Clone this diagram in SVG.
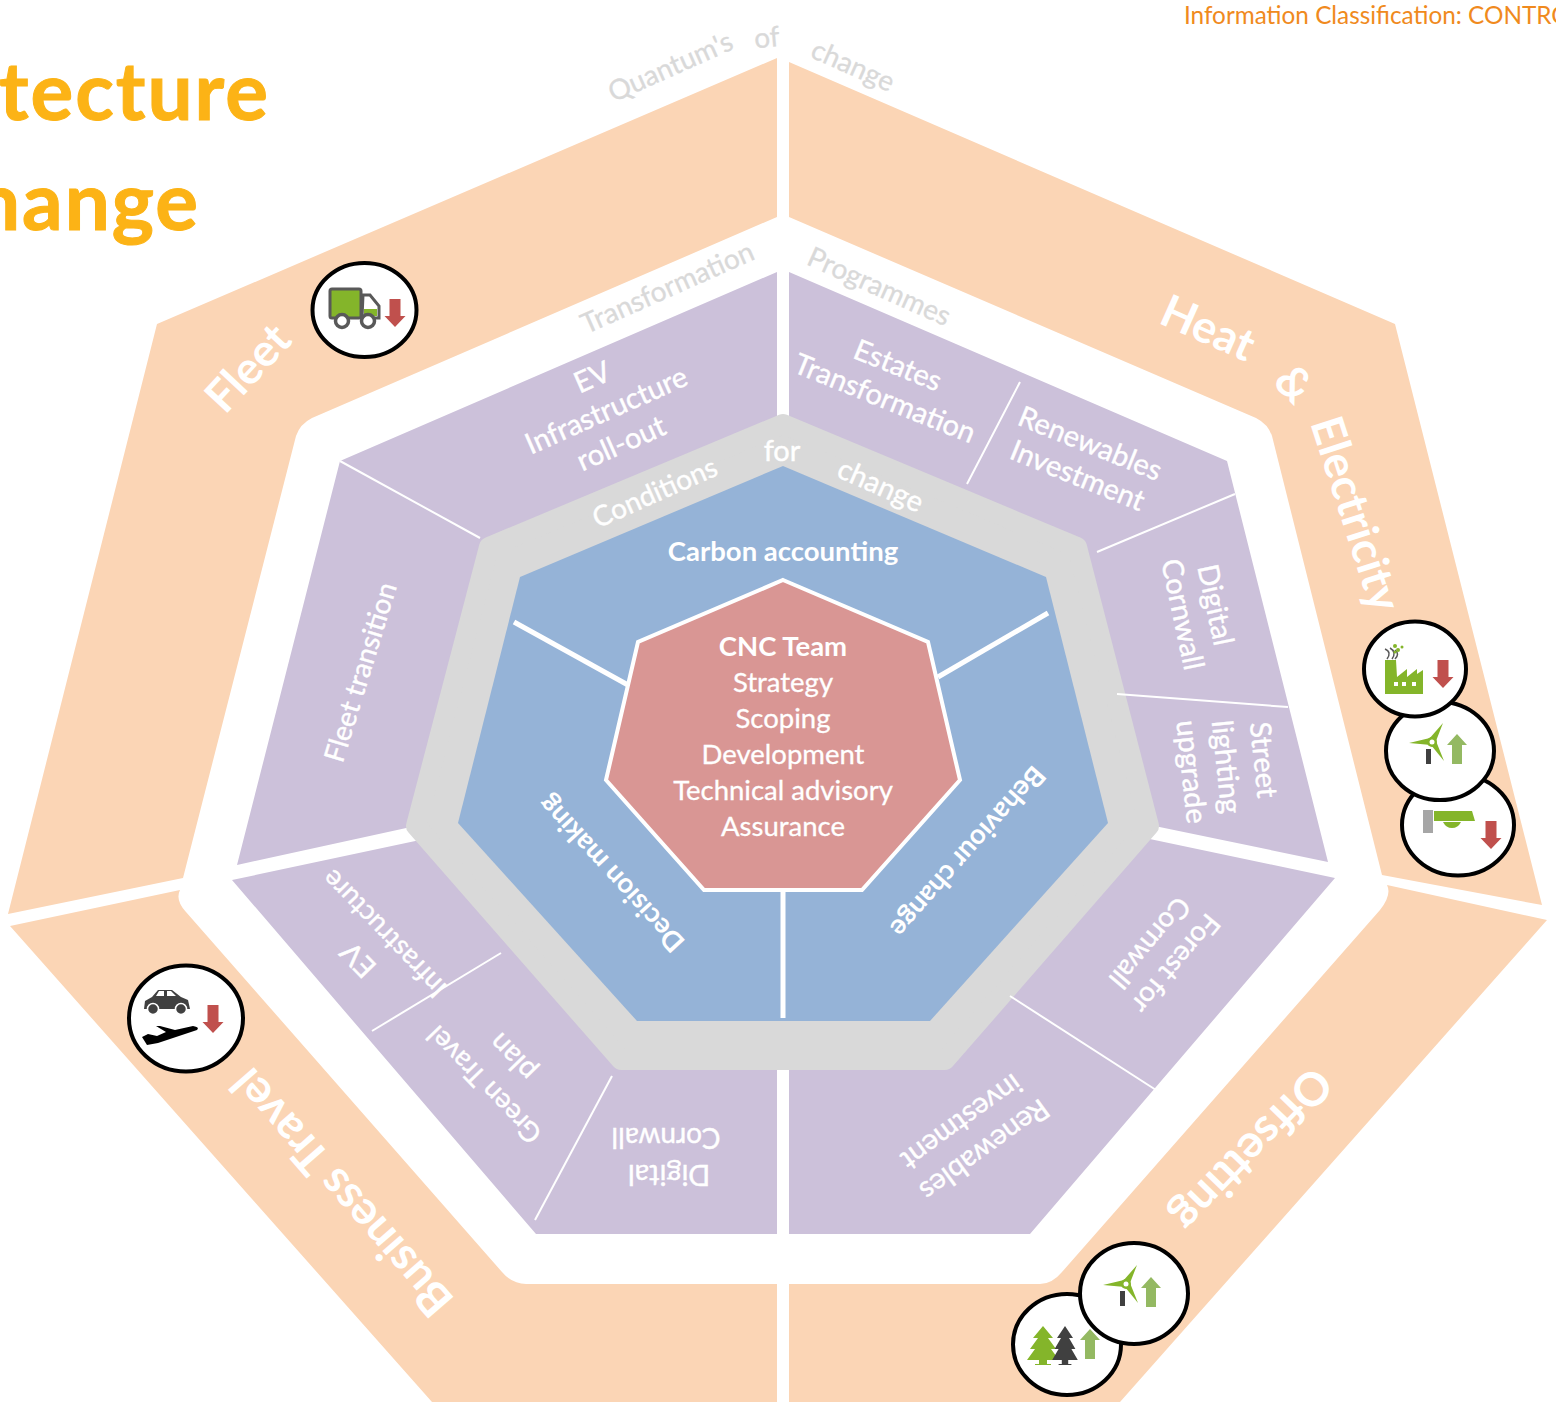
<svg xmlns="http://www.w3.org/2000/svg" width="1556" height="1404" viewBox="0 0 1556 1404">
<style>
text{font-family:"Lato","Carlito","Open Sans",sans-serif;text-anchor:middle;dominant-baseline:middle}
.o{font-size:45px;font-weight:700;fill:#fff}
.r{font-size:28px;fill:#d9d9d9;stroke:#d9d9d9;stroke-width:.3}
.p{font-size:29px;fill:#fff;stroke:#fff;stroke-width:.4}
.n{font-size:28px}
.b{font-size:27.500px;font-weight:700;fill:#fff}
.c{font-size:27.500px;fill:#fff;stroke:#fff;stroke-width:.3}
.t{font-size:80px;font-weight:700;fill:#fcb316;text-anchor:end;dominant-baseline:auto;letter-spacing:2px;stroke:#fcb316;stroke-width:1}
.peach{fill:#fbd5b5}.purple{fill:#ccc1da}.div{stroke:#fff;fill:none}
.ring{fill:#fff;stroke:#000;stroke-width:4}
.dk{fill:#404040}.gn{fill:#84b52a}
</style>
<defs>
<path id="down" d="M-5.500-14H5.500V3H10.500L0 14-10.500 3H-5.500Z" fill="#c0504d"/>
<path id="up" d="M0-15 10-4H5V15H-5V-4H-10Z" fill="#94b962"/>
<g id="wind">
<rect x="-6" y="7" width="5" height="15" class="dk"/>
<path d="M-3-3 11-19 4-1ZM4-1 12 19-1 3ZM-23 1-2-4-1 3Z" class="gn"/>
<circle cx="0" cy="0" r="5" class="gn"/>
<circle r="2.500" fill="#fff"/>
</g>
<path id="tree" d="M0-19 10-7H5L13 4H8L16 15H4V19H8V20H-8V19H-4V15H-16L-8 4H-13L-5-7H-10Z"/>
</defs>
<g id="title">
<text class="t" x="270" y="120">tecture</text>
<text class="t" x="200" y="230">hange</text>
<text x="1184" y="18" style="text-anchor:start;font-size:24.300px;fill:#f08a1d">Information Classification: CONTRO</text>
</g>
<g id="outer-ring">
<path class="peach" d="M777 58V217L312 418Q300 424 296 436L183 878 8 914 157 324Z"/>
<path class="peach" d="M789 62 1395 324 1542 905 1382 875 1272 436Q1268 424 1256 418L789 217Z"/>
<path class="peach" d="M1387 885 1547 920 1120 1402H789V1284H1040Q1052 1284 1062 1272L1380 910Q1392 895 1387 885Z"/>
<path class="peach" d="M10 926 180 890Q175 900 186 912L502 1272Q512 1284 526 1284H777V1402H432Z"/>
</g>
<g id="programmes-ring">
<path class="purple" d="M777 272V430L495 545 420 825 237 865 340 461Z"/>
<path class="purple" d="M789 272 1227 461 1328 862 1145 824 1075 545 789 430Z"/>
<path class="purple" d="M1335 878 1030 1234H789V1060H950L1145 838Z"/>
<path class="purple" d="M232 880 420 840 620 1060H777V1234H536Z"/>
</g>
<g id="conditions">
<path d="M783 424 1077 547 1149 826 945 1060H621L416 826 489 547Z" fill="#d9d9d9" stroke="#d9d9d9" stroke-width="20" stroke-linejoin="round"/>
</g>
<g id="connectors">
<g class="div" stroke-width="2">
<path d="M340 461 480 538"/>
<path d="M1020 382 967 484"/>
<path d="M1235 494 1097 552"/>
<path d="M1117 694 1288 707"/>
<path d="M1010 996 1156 1090"/>
<path d="M612 1076 535 1220"/>
<path d="M501 953 372 1031"/>
</g>
</g>
<g id="pillars">
<path d="M783 466 1046 577 1108 823 930 1021H637L458 823 520 577Z" fill="#95b3d7"/>
<g class="div" stroke-width="5">
<path d="M783 890V1018"/>
<path d="M628 685 514 622"/>
<path d="M938 677 1048 613"/>
</g>
</g>
<g id="core">
<path d="M783 580 928 642 960 780 862 890H704L606 780 638 642Z" fill="#d99694" stroke="#fff" stroke-width="4"/>
<text class="b" x="783" y="649">CNC Team</text>
<text class="c" x="783" y="685">Strategy</text>
<text class="c" x="783" y="721">Scoping</text>
<text class="c" x="783" y="757">Development</text>
<text class="c" x="783" y="793">Technical advisory</text>
<text class="c" x="783" y="829">Assurance</text>
</g>
<g id="pillar-labels">
<text class="b" x="783" y="554">Carbon accounting</text>
<text class="b" transform="translate(613 872) rotate(-132.500)">Decision making</text>
<text class="b" transform="translate(966 850) rotate(131.500)">Behaviour change</text>
</g>
<g id="ring-labels">
<text class="r" dy="1" transform="translate(671 68) rotate(-24)">Quantum's</text>
<text class="r" transform="translate(767 40) rotate(-5)">of</text>
<text class="r" transform="translate(852 68) rotate(24)">change</text>
<text class="r" dy="1" transform="translate(668 289) rotate(-24)">Transformation</text>
<text class="r" dy="2" transform="translate(879 287) rotate(24)">Programmes</text>
<text class="p n" dy="2" transform="translate(655 493) rotate(-24)">Conditions</text>
<text class="p" x="782" y="454">for</text>
<text class="p" dy="1" transform="translate(880 487) rotate(24)">change</text>
</g>
<g id="theme-labels">
<text class="o" dy="4" transform="translate(248 368) rotate(-47)">Fleet</text>
<text class="o" dy="4" transform="translate(1208 328) rotate(24)">Heat</text>
<text class="o" dy="1" transform="translate(1292 386) rotate(45)">&amp;</text>
<text class="o" transform="translate(1352 515) rotate(72)">Electricity</text>
<text class="o" style="font-size:46px" transform="translate(1249 1147) rotate(134)">Offsetting</text>
<text class="o" style="font-size:46px" transform="translate(345 1190) rotate(229)">Business Travel</text>
</g>
<g id="programme-labels">
<text class="p" dy="3" transform="translate(592 377) rotate(-24)">EV</text>
<text class="p" dy="3" transform="translate(606 410) rotate(-24)">Infrastructure</text>
<text class="p" dy="3" transform="translate(621 443) rotate(-24)">roll-out</text>
<text class="p" dy="3" transform="translate(898 365) rotate(22)">Estates</text>
<text class="p" dy="3" transform="translate(885 398) rotate(22)">Transformation</text>
<text class="p" dy="2" transform="translate(1090 444) rotate(22)">Renewables</text>
<text class="p" dy="1" transform="translate(1077 477) rotate(22)">Investment</text>
<text class="p" dy="2" transform="translate(1215 605) rotate(78)">Digital</text>
<text class="p" transform="translate(1180 615) rotate(78)">Cornwall</text>
<text class="p" dy="2" transform="translate(1263 760) rotate(84)">Street</text>
<text class="p" dy="1" transform="translate(1225 767) rotate(84)">lighting</text>
<text class="p" dy="1" transform="translate(1190 772) rotate(84)">upgrade</text>
<text class="p n" transform="translate(363 673) rotate(-73)">Fleet transition</text>
<text class="p n" transform="translate(1174 962) rotate(130)">Forest for</text>
<text class="p n" transform="translate(1148 941) rotate(130)">Cornwall</text>
<text class="p" transform="translate(983 1148) rotate(144)">Renewables</text>
<text class="p" transform="translate(960 1120) rotate(144)">investment</text>
<text class="p" dy="2" transform="translate(669 1174) rotate(180)">Digital</text>
<text class="p n" dy="3" transform="translate(666 1138) rotate(180)">Cornwall</text>
<text class="p" style="font-size:27.500px" transform="translate(486 1083) rotate(226)">Green Travel</text>
<text class="p" dy="2" transform="translate(513 1057) rotate(226)">plan</text>
<text class="p" style="font-size:27.500px" transform="translate(386 932) rotate(226)">Infrastructure</text>
<text class="p" transform="translate(360 958) rotate(226)">EV</text>
</g>
<g id="icon-fleet">
<ellipse class="ring" cx="364.500" cy="310" rx="52" ry="47"/>
<rect x="330" y="289" width="31" height="29" class="gn" stroke="#595959" stroke-width="3" rx="2"/>
<path d="M363 295H370L379 306V318H362Z" fill="#fff" stroke="#595959" stroke-width="3"/>
<path d="M364 309H377V316H364Z" class="gn"/>
<circle cx="342" cy="321" r="6.500" fill="#fff" stroke="#595959" stroke-width="3.500"/>
<circle cx="368" cy="321" r="6.500" fill="#fff" stroke="#595959" stroke-width="3.500"/>
<use href="#down" x="395" y="313"/>
</g>
<g id="icon-street-lighting">
<ellipse class="ring" cx="1458" cy="825" rx="56" ry="50.500"/>
<rect x="1423" y="810" width="10" height="23" fill="#a6a6a6"/>
<path d="M1434 811H1472L1475 821H1434Z" class="gn"/>
<path d="M1443 822H1461Q1458 828 1452 828 1446 828 1443 822Z" class="gn"/>
<use href="#down" x="1491" y="835"/>
</g>
<g id="icon-wind-heat">
<ellipse class="ring" cx="1440" cy="751" rx="54" ry="49"/>
<use href="#wind" x="1432" y="742"/>
<use href="#up" x="1457" y="749"/>
</g>
<g id="icon-factory">
<ellipse class="ring" cx="1415" cy="669" rx="51" ry="47.500"/>
<path d="M1385 660H1396L1397 677 1407 669V677L1417 669V674L1423 670V694H1385Z" class="gn"/>
<g fill="#fff"><rect x="1394" y="682" width="4" height="4"/><rect x="1402" y="682" width="4" height="4"/><rect x="1412" y="682" width="4" height="4"/></g>
<path d="M1385 649Q1392 652 1387 659M1390 648Q1397 652 1392 659M1395 650Q1400 654 1395 659" fill="none" stroke="#595959" stroke-width="1.500"/>
<g class="gn"><circle cx="1395" cy="652" r="1.500"/><circle cx="1398" cy="650" r="2"/><circle cx="1395" cy="646" r="2"/><circle cx="1402" cy="647" r="1.500"/></g>
<use href="#down" x="1443" y="674"/>
</g>
<g id="icon-trees">
<ellipse class="ring" cx="1067" cy="1344.500" rx="54" ry="50.500"/>
<use href="#tree" x="1043" y="1345" class="gn"/>
<use href="#tree" transform="translate(1065 1345) scale(.8 1)" class="dk"/>
<use href="#up" x="1090" y="1344"/>
</g>
<g id="icon-wind-offset">
<ellipse class="ring" cx="1134" cy="1293.500" rx="54" ry="50.500"/>
<use href="#wind" x="1126" y="1284"/>
<use href="#up" x="1151" y="1292"/>
</g>
<g id="icon-travel">
<ellipse class="ring" cx="186" cy="1018.500" rx="57" ry="53"/>
<path d="M144 1009 145 1001 152 997 158 990H172L181 997 188 1000 190 1009Z" class="dk"/>
<path d="M156 996 159 991H164V996ZM167 991H171L176 996H167Z" fill="#fff"/>
<circle cx="153" cy="1009" r="5.500" class="dk" stroke="#fff" stroke-width="1.500"/>
<circle cx="181" cy="1009" r="5.500" class="dk" stroke="#fff" stroke-width="1.500"/>
<path d="M142 1037 148 1034 157 1036 166 1032 156 1026 160 1026 175 1030 193 1026Q200 1027 197 1030L158 1043 147 1045Z" fill="#000"/>
<use href="#down" x="213" y="1019"/>
</g>
</svg>
